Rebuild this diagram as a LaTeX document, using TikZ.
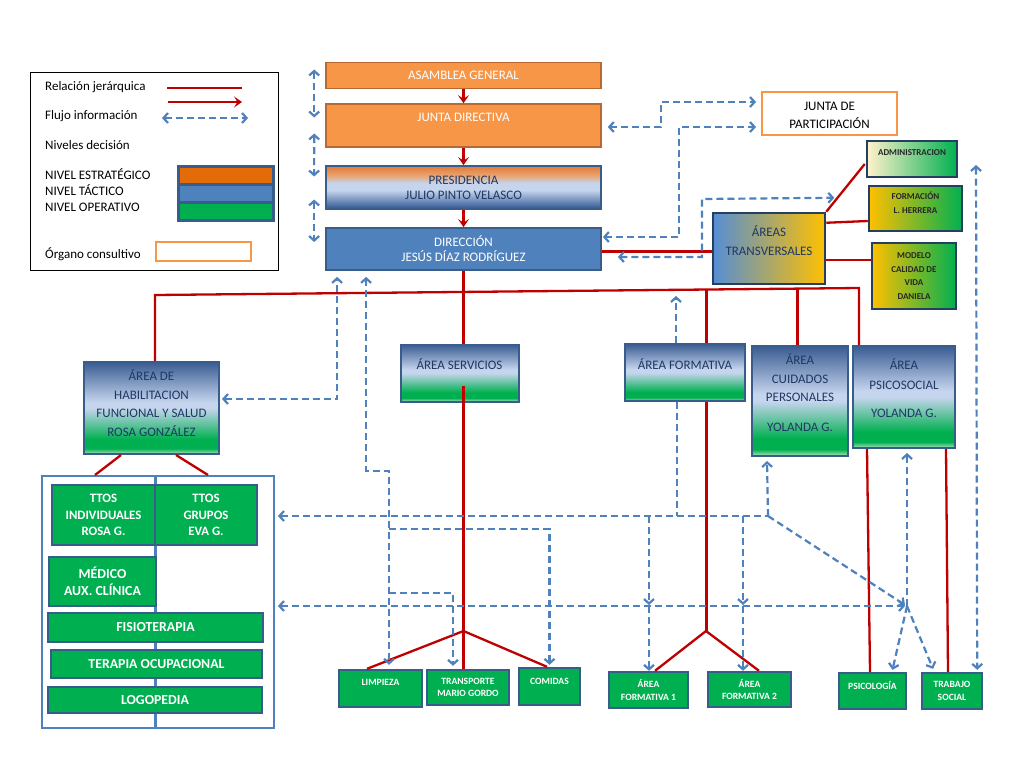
\documentclass[tikz,border=0pt]{standalone}
\usepackage{fontspec}
\setmainfont{Carlito}
\usetikzlibrary{arrows.meta,calc}
\definecolor{cOr}{HTML}{F79646}
\definecolor{cOrD}{HTML}{B8692F}
\definecolor{cOrL}{HTML}{E36C09}
\definecolor{cBl}{HTML}{4F81BD}
\definecolor{cBlD}{HTML}{385D8A}
\definecolor{cGr}{HTML}{00B050}
\definecolor{cRed}{HTML}{C00000}
\definecolor{cTxt}{HTML}{1F3864}
\definecolor{cNavy}{HTML}{243F60}
\definecolor{cLB}{HTML}{C6D5EE}
\definecolor{cDB}{HTML}{3A5C92}
\definecolor{cPG}{HTML}{B5E3C4}
\definecolor{cYel}{HTML}{FFC000}
\definecolor{cCream}{HTML}{FFF2CC}
\definecolor{cSky}{HTML}{558ED5}
\definecolor{cPeach}{HTML}{E9A46E}
\definecolor{cPOr}{HTML}{E2793A}
\definecolor{cPDB}{HTML}{2E5590}
\pgfdeclareverticalshading{tact}{100bp}{color(0bp)=(cPG); color(25bp)=(cPG); color(28bp)=(cGr); color(33bp)=(cGr); color(50bp)=(cLB); color(53bp)=(cLB); color(75bp)=(cDB); color(100bp)=(cDB)}
\pgfdeclareverticalshading{presi}{100bp}{color(0bp)=(cPDB); color(25bp)=(cPDB); color(47bp)=(cLB); color(55bp)=(cLB); color(64bp)=(cPeach); color(75bp)=(cPOr); color(100bp)=(cPOr)}
\newcommand\fsM{\fontsize{13}{15}\selectfont}
\newcommand\fsT{\fontsize{13}{18.5}\selectfont}
\newcommand\fsL{\fontsize{13}{15}\selectfont}
\newcommand\fsB{\bfseries\fontsize{13.8}{17}\selectfont}
\newcommand\fsS{\bfseries\fontsize{9.6}{12.5}\selectfont}
\newcommand\fsX{\bfseries\fontsize{9}{13.5}\selectfont}
\newcommand\upby[2]{\raisebox{#1}[\height][\depth]{\begin{tabular}{@{}c@{}}#2\end{tabular}}}
\tikzset{
 bx/.style={rectangle, inner sep=1pt, align=center},
 orbox/.style={bx, fill=cOr, draw=cOrD, line width=1.6pt, text=white, font=\fsM},
 presbox/.style={bx, shading=presi, draw=cBlD, line width=1.8pt, text=cTxt, font=\fsM},
 dirbox/.style={bx, fill=cBl, draw=cBlD, line width=1.8pt, text=white, font=\fsM},
 tacbox/.style={bx, shading=tact, draw=cBlD, line width=2pt, text=cTxt, font=\fsT},
 opbox/.style={bx, fill=cGr, draw=cBlD, line width=2.4pt, text=white, font=\fsB},
 smallop/.style={opbox, font=\fsS},
 consbox/.style={bx, draw=cOr, line width=2pt, fill=white, font=\fontsize{13}{18}\selectfont},
 trbox/.style={bx, left color=cSky, right color=cYel, draw=cNavy, line width=2.5pt, text=cTxt, font=\fontsize{13}{19}\selectfont},
 sidebox/.style={bx, left color=cYel, right color=cGr, draw=cNavy, line width=2.5pt, text=black!85, font=\fsX},
 rel/.style={draw=cRed, line width=2.3pt},
 relarr/.style={rel, -{Stealth[length=8pt,width=11pt,inset=3.5pt]}},
 info/.style={draw=cBl, line width=2.2pt, dash pattern=on 7pt off 4pt, >={Straight Barb[length=4.5pt,width=10pt]}},
 lg/.style={anchor=base west, inner sep=0pt, font=\fsL},
}
\begin{document}
\begin{tikzpicture}[x=1pt,y=-1pt]
\useasboundingbox (0,0) rectangle (1024,769);
\fill[white] (0,0) rectangle (1024,769);
% ---------- legend
\node[bx, draw=black, line width=0.8pt, minimum width=248pt, minimum height=198pt] (leg) at (154,171) {};
\node[lg] (l1) at (45,90) {Relación jerárquica};
\node[lg] (l2) at (45,119) {Flujo información};
\node[lg] (l3) at (45,149) {Niveles decisión};
\node[lg] (l4) at (45,179) {NIVEL ESTRATÉGICO};
\node[lg] (l5) at (45,195) {NIVEL TÁCTICO};
\node[lg] (l6) at (45,211) {NIVEL OPERATIVO};
\node[lg] (l7) at (45,258) {Órgano consultivo};
\draw[rel] (167,88) -- (242,88);
\draw[relarr] (168,102) -- (242,102);
\draw[info,<->] (162,118) -- (248,118);
\fill[cBlD] (177,165) rectangle (275,222);
\fill[cOrL] (180,168) rectangle (272,183);
\fill[cBl] (180,186) rectangle (272,201);
\fill[cGr] (180,204) rectangle (272,219);
\draw[cOr, line width=2pt] (156,242) rectangle (251,261);
% ---------- main column
\node[orbox, minimum width=275pt, minimum height=26pt] (asam) at (463.5,75.5) {ASAMBLEA GENERAL};
\node[orbox, minimum width=275pt, minimum height=43pt] (jd) at (463.5,125.5) {\upby{7pt}{JUNTA DIRECTIVA}};
\node[presbox, minimum width=275pt, minimum height=43pt] (pres) at (463.5,187.5) {PRESIDENCIA\\JULIO PINTO VELASCO};
\node[dirbox, minimum width=275pt, minimum height=42pt] (dir) at (463.5,249) {DIRECCIÓN\\JESÚS DÍAZ RODRÍGUEZ};
\node[consbox, minimum width=135pt, minimum height=43pt] (jp) at (829.5,113.5) {\upby{-2.5pt}{JUNTA DE\\PARTICIPACIÓN}};
\node[trbox, minimum width=112pt, minimum height=71pt] (trans) at (769,248.5) {\upby{6pt}{ÁREAS\\TRANSVERSALES}};
\node[sidebox, left color=cCream, minimum width=90pt, minimum height=36pt] (adm) at (912,159) {\upby{6pt}{ADMINISTRACION}};
\node[sidebox, minimum width=93pt, minimum height=45pt] (forma) at (915.5,208.5) {\upby{4.5pt}{FORMACIÓN\\L. HERRERA}};
\node[sidebox, minimum width=84pt, minimum height=66pt] (mod) at (914,276) {MODELO\\CALIDAD DE\\VIDA\\DANIELA};
% ---------- tactical
\node[tacbox, minimum width=118pt, minimum height=57pt] (serv) at (459.5,373) {\upby{7pt}{ÁREA SERVICIOS}};
\node[tacbox, minimum width=120pt, minimum height=57pt] (form) at (685,372.5) {\upby{6.5pt}{ÁREA FORMATIVA}};
\node[tacbox, minimum width=96pt, minimum height=110pt] (cuid) at (800,401) {\upby{6.5pt}{ÁREA\\CUIDADOS\\PERSONALES\\[11.5pt]YOLANDA G.}};
\node[tacbox, minimum width=102pt, minimum height=102pt] (psico) at (904,397) {\upby{7pt}{ÁREA\\[1.5pt]PSICOSOCIAL\\[10pt]YOLANDA G.}};
\node[tacbox, minimum width=135pt, minimum height=92pt] (hab) at (151.5,408) {\upby{3pt}{ÁREA DE\\HABILITACION\\FUNCIONAL Y SALUD\\ROSA GONZÁLEZ}};
% ---------- operative group
\node[bx, draw=cBl, line width=2pt, minimum width=232pt, minimum height=252pt] (grp) at (158,602) {};
\draw[cBl, line width=3pt] ($(grp.north)+(-3,0)$) -- ($(grp.south)+(-3,0)$);
\node[opbox, font=\bfseries\fontsize{12.8}{16.5}\selectfont, minimum width=103pt, minimum height=60pt] (tti) at (103.5,515) {TTOS\\INDIVIDUALES\\ROSA G.};
\node[opbox, font=\bfseries\fontsize{12.8}{16.5}\selectfont, minimum width=102pt, minimum height=60pt] (ttg) at (206,515) {TTOS\\GRUPOS\\EVA G.};
\node[opbox, minimum width=107pt, minimum height=49pt] (med) at (102.5,581.5) {MÉDICO\\AUX. CLÍNICA};
\node[opbox, minimum width=215pt, minimum height=29pt] (fisio) at (155.5,627.5) {FISIOTERAPIA};
\node[opbox, minimum width=211pt, minimum height=28pt] (terap) at (156.5,664) {TERAPIA OCUPACIONAL};
\node[opbox, minimum width=214pt, minimum height=26pt] (logo) at (155,700) {LOGOPEDIA};
% ---------- operative small
\node[smallop, minimum width=83pt, minimum height=37pt] (limp) at (380.5,688.5) {\upby{5.5pt}{LIMPIEZA}};
\node[smallop, minimum width=82pt, minimum height=35pt] (transp) at (468,687.5) {TRANSPORTE\\MARIO GORDO};
\node[smallop, minimum width=61pt, minimum height=37pt] (comidas) at (549.5,686.5) {\upby{4.5pt}{COMIDAS}};
\node[smallop, minimum width=79pt, minimum height=36pt] (af1) at (648.5,690) {ÁREA\\FORMATIVA 1};
\node[smallop, minimum width=83pt, minimum height=35pt] (af2) at (749.5,689.5) {ÁREA\\FORMATIVA 2};
\node[smallop, minimum width=67pt, minimum height=36pt] (psicol) at (872.5,691) {\upby{4pt}{PSICOLOGÍA}};
\node[smallop, minimum width=60pt, minimum height=36pt] (trabajo) at (952,691) {TRABAJO\\SOCIAL};
% ---------- hierarchy (red)
\draw[relarr] (asam.south) -- (jd.north);
\draw[relarr] (jd.south) -- (pres.north);
\draw[relarr] (pres.south) -- (dir.north);
\draw[rel, line width=3pt] ($(dir.east)+(0,2)$) -- ($(trans.west)+(0,2.5)$);
\draw[rel] (trans.north east) -- ($(adm.west)+(-1,5)$);
\draw[rel] ($(trans.north east)+(0,11)$) -- ($(forma.west)+(0,12.5)$);
\draw[rel] ($(trans.east)+(0,11.5)$) -- ($(mod.west)+(0,-16)$);
\coordinate (busL) at (155,295);
\coordinate (busR) at (859,288);
\coordinate (bf) at (706,289.5);
\coordinate (bc) at (797,288.6);
\draw[rel] (hab.north -| busL) -- (busL) -- (busR) -- (busR |- psico.north);
\draw[rel] (dir.south) -- (dir.south |- serv.north);
\coordinate (sf) at (463.5,631);
\draw[rel] ($(serv.center)+(4,13)$) -- (sf);
\draw[rel] (sf) -- ($(limp.north)+(-13.5,0)$);
\draw[rel] (sf) -- (sf |- transp.north);
\draw[rel] (sf) -- ($(comidas.north)+(-2.5,0)$);
\draw[rel, line width=3pt] (bf) -- (bf |- form.north);
\coordinate (ff) at (706,631);
\draw[rel, line width=3pt] (bf |- form.south) -- (ff);
\draw[rel] (ff) -- ($(af1.north)+(6.5,0)$);
\draw[rel] (ff) -- ($(af2.north)+(9.5,0)$);
\draw[rel, line width=3pt] (bc) -- (bc |- cuid.north);
\draw[rel] ($(psico.south west)+(15,0)$) -- ($(psicol.north)+(-2.5,0)$);
\draw[rel] ($(psico.south east)+(-10,0)$) -- ($(trabajo.north)+(-4,0)$);
\draw[rel] ($(hab.south west)+(38,0)$) -- ($(grp.north west)+(54,0)$);
\draw[rel] ($(hab.south west)+(93,0)$) -- ($(grp.north west)+(167,0)$);
% ---------- information flow (dashed)
\draw[info,<->] ($(asam.west)+(-11,-6)$) -- ($(jd.west)+(-11,-8)$);
\draw[info,<->] ($(jd.west)+(-11,8)$) -- ($(pres.west)+(-11,-11)$);
\draw[info,<->] ($(pres.west)+(-11,12)$) -- ($(dir.west)+(-11,-7)$);
\draw[info,<->] ($(jd.east)+(6,1.5)$) -- (661,127) |- ($(jp.west)+(-5,-11.5)$);
\draw[info,<->] ($(dir.east)+(1,-12)$) -| (679,127) -- ($(jp.west)+(-5,13.5)$);
\draw[info,<->] ($(dir.east)+(16,8)$) -| (702,199) -- ($(trans.north east)+(8,-14)$);
\draw[info,<->] ($(hab.east)+(2,-9)$) -| ($(dir.south west)+(12,6)$);
\coordinate (j1) at (389,471);
\draw[info,<->] ($(dir.south west)+(41,6)$) |- (j1) -- ($(limp.north)+(8.5,-4)$);
\coordinate (j2) at (768,516);
\coordinate (j3) at (907,606);
\draw[info,<-] ($(grp.east)+(3,-86)$) -- (j2);
\draw[info,->] (j2) -- ($(cuid.south west)+(16,4)$);
\draw[info,->] (j2) -- ($(j3)+(-2,-1)$);
\coordinate (fd) at ($(form.south)+(-8,0)$);
\draw[info] (fd) -- (fd |- j2);
\draw[info,->] ($(form.north)+(-9,0)$) -- ($(form.north)+(-9,-47)$);
\coordinate (v1) at (649,516);
\coordinate (v2) at (743,516);
\draw[info,->] (v1) -- ($(v1 |- j3)+(0,-1)$);
\draw[info,->] (v1 |- j3) -- (v1 |- af1.north);
\draw[info,->] (v2) -- ($(v2 |- j3)+(0,-1)$);
\draw[info,->] (v2 |- j3) -- (v2 |- af2.north);
\coordinate (j4) at (389,529);
\draw[info,->] (j4) -| ($(comidas.north)+(0,-2)$);
\draw[info,<->] ($(grp.east)+(3,4)$) -- ($(j3)+(-2,0)$);
\coordinate (j5) at (389,593);
\draw[info,->] (j5) -| ($(transp.north)+(-15,-3)$);
\draw[info,->] (j3) -- ($(psico.south)+(3,4)$);
\draw[info,->] (j3) -- ($(psicol.north)+(20,-2)$);
\draw[info,->] (j3) -- ($(trabajo.north)+(-19,-3)$);
\coordinate (rtop) at (976,165);
\draw[info,<->] (rtop) -- ($(trabajo.north east)+(-6,-2)$);
\end{tikzpicture}
\end{document}
